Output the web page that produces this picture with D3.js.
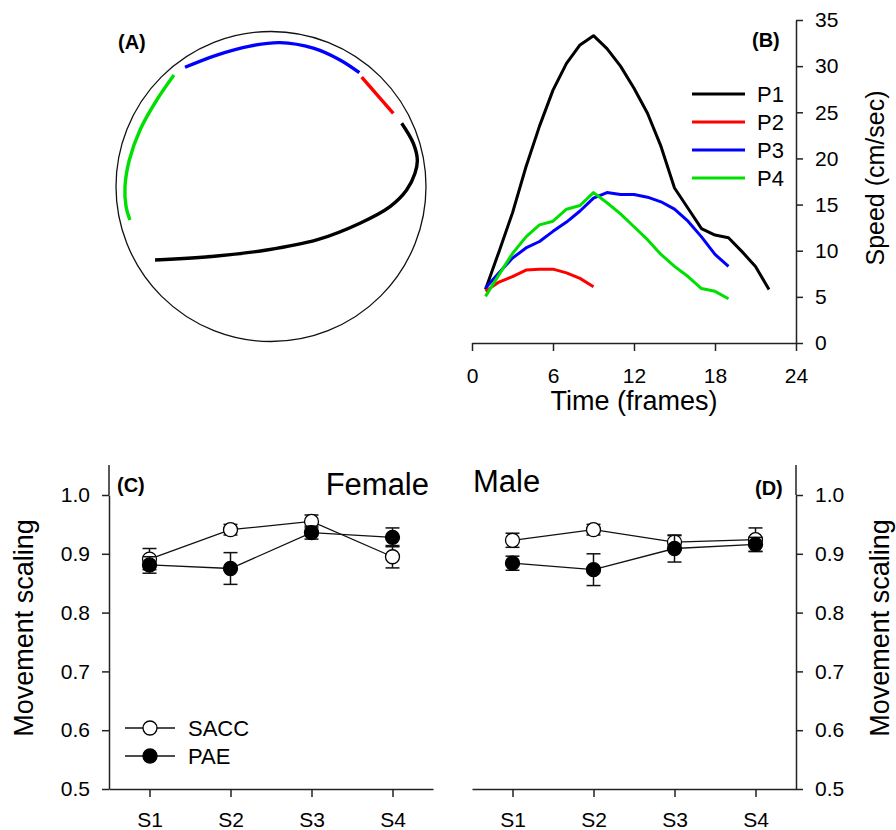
<!DOCTYPE html>
<html>
<head>
<meta charset="utf-8">
<script src="https://cdn.jsdelivr.net/npm/d3@7"></script>
<style>
  body { margin: 0; background: #fff; }
  svg { font-family: "Liberation Sans", Arial, sans-serif; }
</style>
</head>
<body>
<script>
// ---- panel A: hand paths inside the circle, unit-circle coords
var pathP1 = [[0.843,-0.408],[0.918,-0.279],[0.944,-0.171],[0.929,-0.085],[0.875,0.023],[0.768,0.130],[0.574,0.237],[0.295,0.345],[-0.028,0.410],[-0.350,0.448],[-0.748,0.474]];
var pathP2 = [[0.585,-0.705],[0.789,-0.472]];
var pathP3 = [[-0.555,-0.769],[-0.350,-0.848],[-0.135,-0.906],[0.058,-0.928],[0.273,-0.892],[0.445,-0.816],[0.570,-0.734]];
var pathP4 = [[-0.626,-0.719],[-0.737,-0.558],[-0.845,-0.365],[-0.914,-0.171],[-0.942,0.001],[-0.935,0.130],[-0.910,0.216]];

// ---- panel B: speed per frame
var speedP1 = [5.8,9.9,14.1,19.1,23.5,27.4,30.3,32.3,33.3,31.9,30.0,27.6,24.9,21.3,16.8,14.6,12.4,11.7,11.4,9.9,8.3,5.8];
var speedP2 = [5.6,6.6,7.2,7.9,8.0,8.0,7.6,7.0,6.1];
var speedP3 = [5.95,7.6,9.2,10.3,11.0,12.1,13.1,14.3,15.7,16.3,16.1,16.1,15.8,15.3,14.5,13.2,11.5,9.6,8.3];
var speedP4 = [5.05,7.4,9.7,11.5,12.8,13.2,14.5,14.9,16.3,15.2,14.0,12.6,11.2,9.6,8.3,7.2,5.9,5.6,4.8];
var phaseNames = ["P1","P2","P3","P4"];
var phaseColors = ["#000000","#ff0000","#0000ff","#00e000"];
var timeTicks = [0,6,12,18,24];
var speedTicks = [0,5,10,15,20,25,30,35];

// ---- panels C and D: movement scaling
var sessions = ["S1","S2","S3","S4"];
var femaleSacc = [0.891,0.941,0.955,0.895];
var femaleSaccErr = [0.018,0.009,0.011,0.019];
var femalePae = [0.881,0.875,0.936,0.928];
var femalePaeErr = [0.014,0.027,0.011,0.016];
var maleSacc = [0.923,0.941,0.920,0.924];
var maleSaccErr = [0.012,0.009,0.011,0.020];
var malePae = [0.884,0.873,0.909,0.916];
var malePaeErr = [0.012,0.027,0.023,0.012];
var scaleTicks = [0.5,0.6,0.7,0.8,0.9,1.0];

var svg = d3.select("body").append("svg")
    .attr("width", 896)
    .attr("height", 830);

var axisCol = "#222";

function styleAxis(g, fs) {
    g.select(".domain").attr("stroke", axisCol).attr("stroke-width", 1.5);
    g.selectAll(".tick line").attr("stroke", axisCol).attr("stroke-width", 1.5);
    g.selectAll(".tick text").attr("fill", "#000").style("font-size", fs + "px")
        .style("font-family", "'Liberation Sans', Arial, sans-serif");
}

// ================= A =================
var ax = d3.scaleLinear().domain([-1, 1]).range([271 - 155, 271 + 155]);
var ay = d3.scaleLinear().domain([-1, 1]).range([186.5 - 155, 186.5 + 155]);

svg.append("circle")
    .attr("cx", ax(0))
    .attr("cy", ay(0))
    .attr("r", ax(1) - ax(0))
    .attr("fill", "none")
    .attr("stroke", "#111")
    .attr("stroke-width", 1.3);

var pathLine = d3.line()
    .x(function(d) { return ax(d[0]); })
    .y(function(d) { return ay(d[1]); })
    .curve(d3.curveCatmullRom);

[pathP1, pathP2, pathP3, pathP4].forEach(function(p, i) {
    svg.append("path")
        .attr("d", pathLine(p))
        .attr("fill", "none")
        .attr("stroke", phaseColors[i])
        .attr("stroke-width", 3.4);
});

svg.append("text").attr("x", 118).attr("y", 49)
    .style("font-size", "20px").style("font-weight", "bold").text("(A)");

// ================= B =================
var bx = d3.scaleLinear().domain([0, 24]).range([472, 796]);
var by = d3.scaleLinear().domain([0, 35]).range([343, 20]);

var gbx = svg.append("g").attr("transform", "translate(0,343)")
    .call(d3.axisBottom(bx).tickValues(timeTicks).tickSize(8).tickPadding(17).tickSizeOuter(0));
styleAxis(gbx, 21);

var gby = svg.append("g").attr("transform", "translate(796,0)")
    .call(d3.axisRight(by).tickValues(speedTicks).tickSize(7).tickPadding(12).tickSizeOuter(0));
styleAxis(gby, 21);

var speedLine = d3.line()
    .x(function(d, i) { return bx(i + 1); })
    .y(function(d) { return by(d); });

[speedP1, speedP2, speedP3, speedP4].forEach(function(s, i) {
    svg.append("path")
        .attr("d", speedLine(s))
        .attr("fill", "none")
        .attr("stroke", phaseColors[i])
        .attr("stroke-width", 3)
        .attr("stroke-linejoin", "round");
});

// legend B
phaseNames.forEach(function(n, i) {
    var yy = 94 + i * 28;
    svg.append("line").attr("x1", 692).attr("x2", 745).attr("y1", yy).attr("y2", yy)
        .attr("stroke", phaseColors[i]).attr("stroke-width", 3);
    svg.append("text").attr("x", 757).attr("y", yy + 8)
        .style("font-size", "22px").text(n);
});

svg.append("text").attr("x", 752).attr("y", 47)
    .style("font-size", "20px").style("font-weight", "bold").text("(B)");

svg.append("text").attr("x", 634).attr("y", 410)
    .attr("text-anchor", "middle").style("font-size", "27px").text("Time (frames)");

svg.append("text")
    .attr("transform", "translate(884,178) rotate(-90)")
    .attr("text-anchor", "middle").style("font-size", "25px").text("Speed (cm/sec)");

// ================= C & D =================
var sy = d3.scaleLinear().domain([0.5, 1.0]).range([789, 495]);

function scalingPanel(x0, side, sacc, saccErr, pae, paeErr) {
    var sx = d3.scaleLinear().domain([0.5, 4.5]).range([x0, x0 + 324]);

    var gx = svg.append("g").attr("transform", "translate(0,789)")
        .call(d3.axisBottom(sx).tickValues([1, 2, 3, 4])
            .tickFormat(function(d) { return sessions[d - 1]; })
            .tickSize(8).tickPadding(15).tickSizeOuter(0));
    styleAxis(gx, 21);

    var yAxis = side === "left" ? d3.axisLeft(sy) : d3.axisRight(sy);
    var ax0 = side === "left" ? x0 : x0 + 324;
    var gy = svg.append("g").attr("transform", "translate(" + ax0 + ",0)")
        .call(yAxis.tickValues(scaleTicks).tickFormat(d3.format(".1f"))
            .tickSize(7).tickPadding(12).tickSizeOuter(0));
    styleAxis(gy, 21);
    gy.append("line").attr("x1", 0).attr("x2", 0).attr("y1", sy(1.0)).attr("y2", 465)
        .attr("stroke", axisCol).attr("stroke-width", 1.5);

    var ln = d3.line()
        .x(function(d, i) { return sx(i + 1); })
        .y(function(d) { return sy(d); });

    [[sacc, saccErr, "#fff"], [pae, paeErr, "#000"]].forEach(function(s) {
        svg.append("path").attr("d", ln(s[0]))
            .attr("fill", "none").attr("stroke", "#111").attr("stroke-width", 1.3);
    });

    [[sacc, saccErr, "#fff"], [pae, paeErr, "#000"]].forEach(function(s) {
        var g = svg.append("g");
        s[0].forEach(function(v, i) {
            var cx = sx(i + 1), lo = sy(v - s[1][i]), hi = sy(v + s[1][i]);
            g.append("line").attr("x1", cx).attr("x2", cx).attr("y1", lo).attr("y2", hi)
                .attr("stroke", "#111").attr("stroke-width", 1.5);
            g.append("line").attr("x1", cx - 7).attr("x2", cx + 7).attr("y1", lo).attr("y2", lo)
                .attr("stroke", "#111").attr("stroke-width", 1.5);
            g.append("line").attr("x1", cx - 7).attr("x2", cx + 7).attr("y1", hi).attr("y2", hi)
                .attr("stroke", "#111").attr("stroke-width", 1.5);
        });
        s[0].forEach(function(v, i) {
            g.append("circle").attr("cx", sx(i + 1)).attr("cy", sy(v)).attr("r", 7)
                .attr("fill", s[2]).attr("stroke", "#000").attr("stroke-width", 1.3);
        });
    });
}

scalingPanel(109, "left", femaleSacc, femaleSaccErr, femalePae, femalePaeErr);
scalingPanel(472, "right", maleSacc, maleSaccErr, malePae, malePaeErr);

svg.append("text").attr("x", 117).attr("y", 492)
    .style("font-size", "20px").style("font-weight", "bold").text("(C)");
svg.append("text").attr("x", 429).attr("y", 495)
    .attr("text-anchor", "end").style("font-size", "31px").text("Female");
svg.append("text").attr("x", 755).attr("y", 495)
    .style("font-size", "20px").style("font-weight", "bold").text("(D)");
svg.append("text").attr("x", 473).attr("y", 492)
    .style("font-size", "31px").text("Male");

svg.append("text")
    .attr("transform", "translate(33,628) rotate(-90)")
    .attr("text-anchor", "middle").style("font-size", "27px").text("Movement scaling");
svg.append("text")
    .attr("transform", "translate(889,628) rotate(-90)")
    .attr("text-anchor", "middle").style("font-size", "27px").text("Movement scaling");

// legend C
[["SACC", "#fff"], ["PAE", "#000"]].forEach(function(d, i) {
    var yy = 728 + i * 28;
    svg.append("line").attr("x1", 125).attr("x2", 175).attr("y1", yy).attr("y2", yy)
        .attr("stroke", "#111").attr("stroke-width", 1.3);
    svg.append("circle").attr("cx", 150).attr("cy", yy).attr("r", 7)
        .attr("fill", d[1]).attr("stroke", "#000").attr("stroke-width", 1.3);
    svg.append("text").attr("x", 188).attr("y", yy + 8)
        .style("font-size", "22px").text(d[0]);
});
</script>
</body>
</html>
